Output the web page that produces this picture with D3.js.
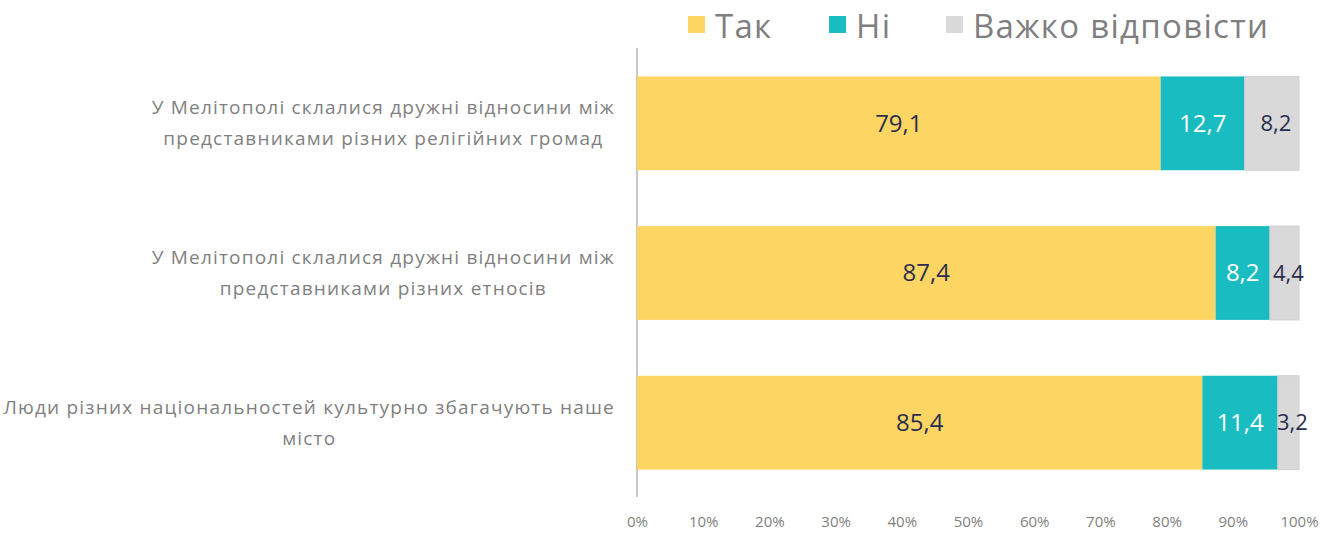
<!DOCTYPE html>
<html><head><meta charset="utf-8">
<script src="https://cdn.jsdelivr.net/npm/d3@7"></script>
<style>body{margin:0;background:#fff}svg{display:block}text{font-family:"Open Sans","DejaVu Sans",sans-serif}</style>
</head><body><svg id="c" width="1337" height="536"></svg>
<script>
const categories = [
  ["У Мелітополі склалися дружні відносини між", "представниками різних релігійних громад"],
  ["У Мелітополі склалися дружні відносини між", "представниками різних етносів"],
  ["Люди різних національностей культурно збагачують наше", "місто"]
];
const seriesNames = ["Так", "Ні", "Важко відповісти"];
const tak = [79.1, 87.4, 85.4];
const ni = [12.7, 8.2, 11.4];
const vazhko = [8.2, 4.4, 3.2];
const tickLabels = ["0%","10%","20%","30%","40%","50%","60%","70%","80%","90%","100%"];
const colors = ["#FDD562", "#19BCC1", "#D9D9D9"];
const labelColors = ["#2B2D4F", "#FFFFFF", "#2B2D4F"];

const svg = d3.select("#c");
const x = d3.scaleLinear().domain([0,100]).range([637,1299]);
const y = d3.scaleBand().domain(d3.range(categories.length)).range([48,498]).paddingInner(0.373).paddingOuter(0.19);

const series = [tak, ni, vazhko];
const rows = categories.map((c,i)=>{
  let acc=0; return series.map((s,k)=>{const v=s[i]; const r={i,k,v,x0:acc,x1:acc+v}; acc+=v; return r;});
});

// axis line
svg.append("line").attr("x1",637).attr("x2",637).attr("y1",48).attr("y2",497).attr("stroke","#C8C8C8").attr("stroke-width",2);

const g = svg.append("g");
rows.forEach(r=>{
  r.forEach(d=>{
    g.append("rect").attr("x",x(d.x0)).attr("y",y(d.i)).attr("width",x(d.x1)-x(d.x0)).attr("height",y.bandwidth())
      .attr("fill",colors[d.k]).attr("stroke", d.k===2?"#CFCFCF":"none").attr("stroke-width",1);
  });
  r.forEach(d=>{
    const cx = (x(d.x0)+x(d.x1))/2 + (d.k===2 ? 4 : 0);
    g.append("text").attr("x",cx).attr("y",y(d.i)+y.bandwidth()/2).attr("dy","0.35em")
      .attr("text-anchor","middle").attr("fill",labelColors[d.k])
      .style("font-size", d.k===2?"22px":"24px").text(d3.format(".1f")(d.v).replace(".",","));
  });
});

// x axis tick labels
const xAxis = d3.axisBottom(x).tickValues(d3.range(0,101,10)).tickSize(0).tickFormat((d,i)=>tickLabels[i]);
const ax = svg.append("g").attr("transform","translate(0,513)").call(xAxis);
ax.select(".domain").remove();
ax.selectAll("text").style("font-size","15px").attr("fill","#7F7F7F").style("font-family",'"Open Sans",sans-serif');

// category labels
const rightEdge = 615;
categories.forEach((lines,i)=>{
  const cy = y(i)+y.bandwidth()/2;
  const grp = svg.append("g");
  const texts = lines.map((l,j)=>grp.append("text").attr("y", cy + (j - (lines.length-1)/2)*31).attr("dy","0.35em")
     .attr("text-anchor","middle").attr("fill","#7F7F7F").style("font-size","19px").style("letter-spacing","1.2px").text(l));
  const maxW = d3.max(texts.map(t=>t.node().getComputedTextLength()));
  texts.forEach(t=>t.attr("x", rightEdge - maxW/2));
});

// legend
const legX = [688, 829, 946];
seriesNames.forEach((n,k)=>{
  svg.append("rect").attr("x",legX[k]).attr("y",16).attr("width",17).attr("height",17).attr("fill",colors[k]);
  svg.append("text").attr("x",legX[k]+27).attr("y",26).attr("dy","0.35em").attr("fill","#7F7F7F").style("font-size","33px").style("letter-spacing","1.3px").text(n);
});
</script></body></html>
